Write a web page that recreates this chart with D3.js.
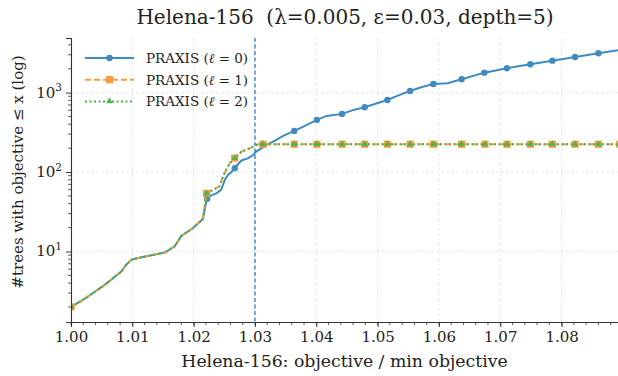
<!DOCTYPE html>
<html>
<head>
<meta charset="utf-8">
<script src="https://cdn.jsdelivr.net/npm/d3@7"></script>
<style>
  body { margin: 0; background: #fff; }
  text { font-family: "DejaVu Serif", serif; fill: #222; white-space: pre; }
</style>
</head>
<body>
<div id="chart"></div>
<script>
// --- Data ---
// PRAXIS (l=0): objective ratio -> #trees
const blueX = [1.0000, 1.0020, 1.0036, 1.0055, 1.0082, 1.0090, 1.0099, 1.0117, 1.0153, 1.0169,
  1.0180, 1.0199, 1.0215, 1.0220, 1.0222, 1.0229, 1.0237, 1.0245, 1.0251, 1.0256, 1.0262,
  1.0267, 1.0270, 1.0278, 1.0289, 1.0297, 1.0302, 1.0319, 1.0335, 1.0346, 1.0364, 1.0379,
  1.0401, 1.0417, 1.0442, 1.0461, 1.0479, 1.0499, 1.0516, 1.0532, 1.0553, 1.0571, 1.0591,
  1.0614, 1.0637, 1.0674, 1.0711, 1.0749, 1.0785, 1.0822, 1.0860, 1.0895];
const blueY = [2.0, 2.47, 3.0, 3.8, 5.6, 6.8, 7.9, 8.5, 9.7, 11.6,
  15.7, 19.7, 25.6, 40, 46, 51, 54, 60, 80, 92, 101,
  112, 120, 140, 150, 164, 181, 220, 254, 285, 330, 373,
  454, 509, 540, 606, 655, 736, 809, 909, 1050, 1169, 1286,
  1312, 1473, 1785, 2028, 2276, 2528, 2813, 3133, 3445];
const blueMarks = [1.0000, 1.0222, 1.0267, 1.0364, 1.0401, 1.0442, 1.0479, 1.0516, 1.0553, 1.0591,
  1.0637, 1.0674, 1.0711, 1.0749, 1.0785, 1.0822, 1.0860];

// PRAXIS (l=1)
const orangeX = [1.0000, 1.0020, 1.0036, 1.0055, 1.0082, 1.0090, 1.0099, 1.0117, 1.0153, 1.0169,
  1.0180, 1.0199, 1.0215, 1.0221, 1.0233, 1.0242, 1.0247, 1.0253, 1.0259, 1.0267, 1.0278,
  1.0292, 1.0305, 1.0313, 1.0364, 1.0401, 1.0442, 1.0479, 1.0516, 1.0553, 1.0591, 1.0637,
  1.0675, 1.0711, 1.0749, 1.0785, 1.0822, 1.0860, 1.0895];
const orangeY = [2.0, 2.47, 3.0, 3.8, 5.6, 6.8, 7.9, 8.5, 9.7, 11.6,
  15.7, 19.7, 25.6, 54, 60.5, 66, 84, 107, 129, 150, 181,
  200, 224, 224, 224, 224, 224, 224, 224, 224, 224, 224,
  224, 224, 224, 224, 224, 224, 224];
const orangeMarks = [1.0000, 1.0221, 1.0267, 1.0313, 1.0364, 1.0401, 1.0442, 1.0479, 1.0516, 1.0553,
  1.0591, 1.0637, 1.0675, 1.0711, 1.0749, 1.0785, 1.0822, 1.0860, 1.0895];

// PRAXIS (l=2) lies exactly on l=1
const greenX = orangeX;
const greenY = orangeY;
const greenMarks = orangeMarks;

const xTicks = [1.00, 1.01, 1.02, 1.03, 1.04, 1.05, 1.06, 1.07, 1.08];
const yTicks = [10, 100, 1000];
const yTickExp = ["1", "2", "3"];
const cutoff = 1.03;

// --- Layout ---
const W = 618, H = 376;
const margin = { top: 38, right: 0, bottom: 54, left: 71 },
      width = W - margin.left - margin.right,
      height = H - margin.top - margin.bottom;

const svg = d3.select("#chart")
  .append("svg")
  .attr("width", W)
  .attr("height", H);

const g = svg.append("g")
  .attr("transform", `translate(${margin.left},${margin.top})`);

// Scales
const x = d3.scaleLinear().domain([1.0, 1.0892]).range([0, width]);
const y = d3.scaleLog().domain([1.294, 4875]).range([height, 0]);

g.append("clipPath").attr("id", "clip")
  .append("rect").attr("width", width).attr("height", height);

// Grid
g.append("g")
  .selectAll("line")
  .data(xTicks)
  .join("line")
  .attr("x1", d => x(d)).attr("x2", d => x(d))
  .attr("y1", 0).attr("y2", height)
  .attr("stroke", "#e2e2e2").attr("stroke-width", 0.8)
  .attr("stroke-dasharray", "3,2");
g.append("g")
  .selectAll("line")
  .data(yTicks)
  .join("line")
  .attr("x1", 0).attr("x2", width)
  .attr("y1", d => y(d)).attr("y2", d => y(d))
  .attr("stroke", "#e2e2e2").attr("stroke-width", 0.8)
  .attr("stroke-dasharray", "3,2");

// Series
const series = [
  { label: "0", xs: blueX, ys: blueY, marks: blueMarks, color: "#3f8bc0", dash: null, shape: "circle" },
  { label: "1", xs: orangeX, ys: orangeY, marks: orangeMarks, color: "#fb9a3e", dash: "6,3", shape: "square" },
  { label: "2", xs: greenX, ys: greenY, marks: greenMarks, color: "#4fb34f", dash: "2,2.5", shape: "triangle" }
];

const line = d3.line()
  .x(d => x(d[0]))
  .y(d => y(d[1]));

const plot = g.append("g").attr("clip-path", "url(#clip)");

function drawMarker(sel, shape, color) {
  if (shape === "circle") {
    sel.append("circle").attr("r", 3.2).attr("fill", color);
  } else if (shape === "square") {
    sel.append("rect").attr("x", -3.6).attr("y", -3.6)
      .attr("width", 7.2).attr("height", 7.2).attr("fill", color);
  } else {
    sel.append("path").attr("d", d3.symbol(d3.symbolTriangle, 20)()).attr("fill", color);
  }
}

series.forEach(s => {
  const pts = s.xs.map((v, i) => [v, s.ys[i]]);
  plot.append("path")
    .datum(pts)
    .attr("d", line)
    .attr("fill", "none")
    .attr("stroke", s.color)
    .attr("stroke-width", 2)
    .attr("stroke-dasharray", s.dash);
  pts.filter(p => s.marks.includes(p[0])).forEach(p => {
    const m = plot.append("g").attr("transform", `translate(${x(p[0])},${y(p[1])})`);
    drawMarker(m, s.shape, s.color);
  });
});

// Cutoff line
g.append("line")
  .attr("x1", x(cutoff)).attr("x2", x(cutoff))
  .attr("y1", 0).attr("y2", height)
  .attr("stroke", "#2f7fc0")
  .attr("stroke-width", 1.3)
  .attr("stroke-dasharray", "4,2.5");

// X axis
const xAxis = g.append("g")
  .attr("transform", `translate(0,${height})`)
  .call(d3.axisBottom(x).tickValues(xTicks).tickFormat(d3.format(".2f")).tickSize(5).tickPadding(4));
xAxis.selectAll(".tick text").style("font-size", "15px").attr("fill", "#222");
xAxis.select(".domain").attr("stroke", "#333").attr("stroke-width", 1.1);
xAxis.selectAll(".tick line").attr("stroke", "#333");
const xMinor = d3.range(0, 45).map(i => 1 + i * 0.002).filter(v => v <= 1.0892);
xAxis.selectAll(".minor")
  .data(xMinor)
  .join("line")
  .attr("x1", d => x(d)).attr("x2", d => x(d))
  .attr("y1", 0).attr("y2", 3)
  .attr("stroke", "#333").attr("stroke-width", 0.8);

// Y axis
const yAxis = g.append("g")
  .call(d3.axisLeft(y).tickValues(yTicks).tickFormat("").tickSize(5));
yAxis.select(".domain").attr("stroke", "#333").attr("stroke-width", 1.1);
yAxis.selectAll(".tick line").attr("stroke", "#333");
const yMinor = [];
[1, 10, 100, 1000].forEach(base => d3.range(2, 10).forEach(k => {
  const v = base * k;
  if (v >= 1.294 && v <= 4875) yMinor.push(v);
}));
yAxis.selectAll(".minor")
  .data(yMinor)
  .join("line")
  .attr("x1", 0).attr("x2", -3)
  .attr("y1", d => y(d)).attr("y2", d => y(d))
  .attr("stroke", "#333").attr("stroke-width", 0.8);

yTicks.forEach((v, i) => {
  const t = g.append("text")
    .attr("x", -9)
    .attr("y", y(v) + 5)
    .attr("text-anchor", "end")
    .style("font-size", "15px");
  t.append("tspan").text("10");
  t.append("tspan").attr("dy", -6.5).style("font-size", "10.5px").text(yTickExp[i]);
});

// Axis labels and title
svg.append("text")
  .attr("x", margin.left + width / 2)
  .attr("y", 367)
  .attr("text-anchor", "middle")
  .style("font-size", "17.3px")
  .text("Helena-156: objective / min objective");

svg.append("text")
  .attr("transform", "translate(23,172) rotate(-90)")
  .attr("text-anchor", "middle")
  .style("font-size", "15px")
  .text("#trees with objective ≤ x (log)");

svg.append("text")
  .attr("x", 345)
  .attr("y", 24)
  .attr("text-anchor", "middle")
  .style("font-size", "20px")
  .text("Helena-156  (λ=0.005, ε=0.03, depth=5)");

// Legend
const legend = g.append("g").attr("transform", "translate(14,0)");
series.forEach((s, i) => {
  const row = legend.append("g").attr("transform", `translate(0,${20 + i * 21.7})`);
  row.append("line")
    .attr("x1", 0).attr("x2", 49)
    .attr("stroke", s.color).attr("stroke-width", 2)
    .attr("stroke-dasharray", s.dash);
  drawMarker(row.append("g").attr("transform", "translate(24.5,0)"), s.shape, s.color);
  const t = row.append("text")
    .attr("x", 61).attr("y", 5)
    .style("font-size", "13.5px");
  t.append("tspan").text("PRAXIS (");
  t.append("tspan").style("font-style", "italic").text("ℓ");
  t.append("tspan").text(" = " + s.label + ")");
});
</script>
</body>
</html>
